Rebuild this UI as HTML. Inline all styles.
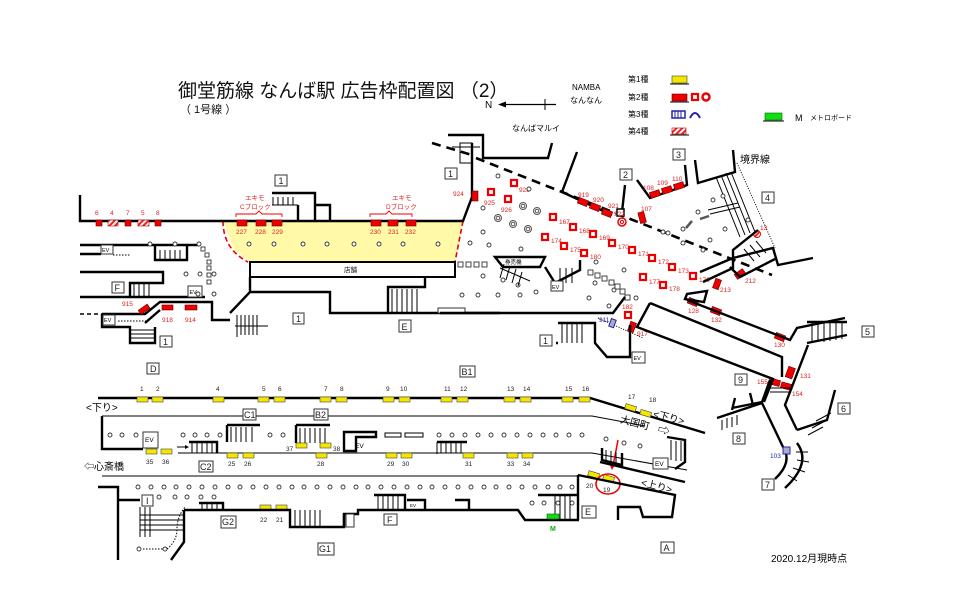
<!DOCTYPE html>
<html><head><meta charset="utf-8"><style>
html,body{margin:0;padding:0;background:#fff}
svg{display:block}
text{font-family:"Liberation Sans","Noto Sans CJK JP",sans-serif}
.w{fill:none;stroke:#000;stroke-width:2.4}
.t{fill:none;stroke:#000;stroke-width:1}
.r{fill:#e00;stroke:#600;stroke-width:.6}
.y{fill:#f5e600;stroke:#444;stroke-width:.6}
.rl{fill:#d22;font-size:6.5px}
.bl{fill:#222;font-size:6.5px}
.bx{fill:#fff;stroke:#333;stroke-width:1}
.bt{font-size:9px;fill:#222}
.c{fill:#fff;stroke:#333;stroke-width:.9}
.sq{fill:#fff;stroke:#e00;stroke-width:2.2}
</style></head><body>
<svg width="960" height="605" viewBox="0 0 960 605" xmlns="http://www.w3.org/2000/svg">
<defs>
<pattern id="h" width="4" height="4" patternUnits="userSpaceOnUse" patternTransform="rotate(45)"><rect width="4" height="4" fill="#fff"/><rect width="2" height="4" fill="#e22"/></pattern>
<g id="st"><path d="M0 0h2M0 0v1" /></g>
</defs>
<!-- Title -->
<text x="178" y="97" font-size="19" fill="#111">御堂筋線  なんば駅  広告枠配置図 （2）</text>
<text x="180" y="113" font-size="11" fill="#111">（ 1号線 ）</text>
<text x="485" y="108" font-size="10">N</text>
<path d="M500 104.5h56" stroke="#000" stroke-width="1.2"/><path d="M498 104.5l8-3v6z"/><path d="M545 99v11" stroke="#000"/>
<text x="572" y="90" font-size="8">NAMBA</text><text x="570" y="103" font-size="8">なんなん</text>
<text x="512" y="131" font-size="8">なんばマルイ</text>
<!-- legend -->
<text x="628" y="82" font-size="8">第1種</text><rect x="672" y="76" width="15" height="7" class="y"/><path d="M670 84h19" stroke="#000"/>
<text x="628" y="100" font-size="8">第2種</text><rect x="672" y="94" width="15" height="7" class="r"/><path d="M670 102h19" stroke="#000"/>
<rect x="692" y="94" width="6" height="6" class="sq"/><circle cx="706" cy="97" r="3.5" fill="#fff" stroke="#e00" stroke-width="2.5"/>
<text x="628" y="117" font-size="8">第3種</text><rect x="672" y="111" width="13" height="7" fill="#fff" stroke="#22a" stroke-width="1.5"/><path d="M675 111v7M678 111v7M681 111v7" stroke="#22a"/><path d="M690 118q5-10 10 0" fill="none" stroke="#22a" stroke-width="2"/>
<text x="628" y="134" font-size="8">第4種</text><rect x="672" y="128" width="14" height="6" fill="url(#h)" stroke="#a00" stroke-width=".6"/><path d="M670 135h19" stroke="#000"/>
<rect x="765" y="113" width="17" height="7" fill="#1d1" stroke="#060" stroke-width=".6"/><path d="M763 121h21" stroke="#000"/>
<text x="795" y="121" font-size="9">M</text><text x="810" y="120" font-size="7">メトロボード</text>

<!-- ===== TOP MAP ===== -->
<polygon points="223,221 463,221 455,262 250,262 234,250" fill="#fff9a8"/>
<path d="M223 221q0 28 25 41M463 221l-8 41" fill="none" stroke="#e00" stroke-width="1.6" stroke-dasharray="5,3"/>
<path class="w" d="M80 195v26h383l9-24v-54"/>
<path class="w" d="M272 193h43v28M298 205v16M315 205h15v16"/>
<path class="t" d="M273 197v8M278 197v8M283 197v8M288 197v8M293 197v8M272 205h26"/>
<rect x="275" y="175" width="12" height="11" class="bx"/><text x="278.5" y="184" class="bt">1</text>
<path class="w" d="M448 135h35v23h65l4-15"/><path class="t" d="M460 143h12v20h-12z M452 147h28"/>
<rect x="445" y="168" width="12" height="11" class="bx"/><text x="448" y="177" class="bt">1</text>
<path d="M432 143l40 12M476 158l296 117" stroke="#000" stroke-width="2.6" stroke-dasharray="9,6" fill="none"/>
<!-- left ads -->
<rect x="96" y="220" width="6" height="6" class="r"/><rect x="108" y="220" width="10" height="6" fill="url(#h)" stroke="#a00" stroke-width=".6"/>
<rect x="125" y="220" width="6" height="6" class="r"/><rect x="138" y="220" width="11" height="6" fill="url(#h)" stroke="#a00" stroke-width=".6"/>
<rect x="155" y="220" width="6" height="6" class="r"/>
<text x="95" y="215" class="rl">6</text><text x="110" y="215" class="rl">4</text><text x="126" y="215" class="rl">7</text><text x="141" y="215" class="rl">5</text><text x="156" y="215" class="rl">8</text>
<g class="r"><rect x="237" y="220" width="10" height="6"/><rect x="256" y="220" width="10" height="6"/><rect x="272" y="220" width="10" height="6"/><rect x="371" y="220" width="10" height="6"/><rect x="388" y="220" width="10" height="6"/><rect x="406" y="220" width="10" height="6"/></g>
<g class="rl"><text x="236" y="234">227</text><text x="255" y="234">228</text><text x="272" y="234">229</text><text x="370" y="234">230</text><text x="388" y="234">231</text><text x="405" y="234">232</text></g>
<g class="rl"><text x="245" y="200">エキモ</text><text x="240" y="209">Cブロック</text><text x="392" y="200">エキモ</text><text x="386" y="209">Dブロック</text></g>
<path d="M236 217v-3h20l3-3 3 3h20v3M370 217v-3h16l3-3 3 3h20v3" fill="none" stroke="#e00" stroke-width=".9"/>
<g class="c"><circle cx="249" cy="244" r="2"/><circle cx="274" cy="244" r="2"/><circle cx="303" cy="244" r="2"/><circle cx="327" cy="244" r="2"/><circle cx="354" cy="244" r="2"/><circle cx="379" cy="244" r="2"/><circle cx="403" cy="244" r="2"/><circle cx="438" cy="244" r="2"/></g>
<rect x="250" y="262" width="205" height="15" fill="#fff" stroke="#000" stroke-width="2"/><text x="344" y="272" font-size="6.5">店舗</text>
<path class="w" d="M230 313l20-21v-15M250 292h80v21h170M425 277v10h-37v26"/>
<path class="t" d="M392 289v24M397 289v24M402 289v24M407 289v24M412 289v24M417 289v24"/>
<rect x="438" y="308" width="27" height="5" fill="#fff" stroke="#333"/>
<rect x="293" y="313" width="11" height="11" class="bx"/><text x="296" y="322" class="bt">1</text>
<rect x="399" y="320" width="12" height="12" class="bx"/><text x="401.5" y="330" class="bt">E</text>
<path class="t" d="M237 315v22M241 315v20M245 315v20M249 315v20M253 315v20M257 315v20M235 326h33"/>
<!-- left lower -->
<path class="w" d="M80 245h75M80 254h21M155 245h45"/><rect x="101" y="245" width="12" height="9" class="bx"/><text x="102" y="252" font-size="5.5">EV</text>
<path d="M113 255h18" stroke="#000" stroke-dasharray="1.5,1.5"/>
<path class="w" d="M155 245v15h32v-15"/><path class="t" d="M160 250v10M165 250v10M170 250v10M175 250v10M180 250v10"/>
<path class="w" d="M80 272h83v11h-33v14M80 297h125"/>
<rect x="112" y="282" width="12" height="11" class="bx"/><text x="114.5" y="291" class="bt">F</text>
<path class="t" d="M134 283v14M139 283v14M144 283v14M149 283v14"/>
<rect x="188" y="286" width="14" height="11" class="bx"/><text x="189.5" y="294" font-size="5.5">EV</text>
<path d="M80 314h22" stroke="#000" stroke-width="1.6" stroke-dasharray="4,3"/>
<path class="w" d="M102 314h43l15-12h52v18h18M102 314v13h28v16h25v-16M145 323l15-13"/>
<rect x="103" y="315" width="12" height="10" class="bx"/><text x="104" y="322" font-size="5.5">EV</text>
<path d="M118 321h30" stroke="#000" stroke-dasharray="1.5,1.5"/>
<path class="t" d="M130 330h25M130 334h25M130 338h25"/>
<rect x="139" y="307" width="11" height="5" class="r" transform="rotate(-35 144 310)"/>
<text x="122" y="306" class="rl">915</text>
<rect x="162" y="305" width="11" height="5" class="r"/><rect x="185" y="305" width="12" height="5" class="r"/>
<text x="162" y="322" class="rl">918</text><text x="185" y="322" class="rl">914</text>
<rect x="160" y="336" width="12" height="11" class="bx"/><text x="163" y="345" class="bt">1</text>
<rect x="116" y="280" width="0" height="0"/>
<g class="c"><circle cx="150" cy="244" r="2"/><circle cx="175" cy="244" r="2"/><circle cx="199" cy="244" r="2"/><circle cx="186" cy="274" r="2"/><circle cx="200" cy="274" r="2"/><circle cx="214" cy="274" r="2"/><circle cx="198" cy="294" r="2"/><circle cx="214" cy="294" r="2"/></g>
<g class="c"><rect x="201" y="247" width="4" height="4"/><rect x="205" y="253" width="4" height="4"/><rect x="207" y="260" width="4" height="4"/><rect x="207" y="266" width="4" height="4"/><rect x="207" y="273" width="4" height="4"/><rect x="207" y="280" width="4" height="4"/></g>
<!-- right area top -->
<rect x="472" y="191" width="6" height="10" class="r"/><text x="453" y="196" class="rl">924</text>
<path class="w" d="M577 152l-15 40 50 23M637 180l13 18 37-13-2-20M695 160l3 23 37-11-2-22M625 185l-3 27"/>
<rect x="620" y="169" width="12" height="11" class="bx"/><text x="623" y="178" class="bt">2</text>
<rect x="673" y="149" width="12" height="11" class="bx"/><text x="676" y="158" class="bt">3</text>
<rect x="762" y="192" width="12" height="11" class="bx"/><text x="765" y="201" class="bt">4</text>
<text x="740" y="163" font-size="10">境界線</text>
<path d="M737 163l38 85" stroke="#000" stroke-dasharray="1,1.5"/>
<path class="t" d="M716 177l24 60M721 175l24 60M726 173l24 60M731 172l24 60M708 210l30-7M710 214l30-7"/>
<g class="r">
<rect x="578" y="199" width="10" height="6" transform="rotate(22 583 202)"/><rect x="590" y="204" width="10" height="6" transform="rotate(22 595 207)"/><rect x="602" y="210" width="10" height="6" transform="rotate(22 607 213)"/>
<rect x="639" y="212" width="6" height="11" transform="rotate(-15 642 217)"/>
<rect x="650" y="191" width="10" height="6" transform="rotate(-18 655 194)"/><rect x="662" y="187" width="10" height="6" transform="rotate(-18 667 190)"/><rect x="674" y="183" width="10" height="6" transform="rotate(-18 679 186)"/>
<rect x="735" y="271" width="10" height="6" transform="rotate(-35 740 274)"/><rect x="714" y="279" width="6" height="10" transform="rotate(20 717 284)"/>
<rect x="688" y="299" width="10" height="6" transform="rotate(22 693 302)"/><rect x="711" y="308" width="10" height="6" transform="rotate(22 716 311)"/><rect x="775" y="334" width="10" height="6" transform="rotate(22 780 337)"/>
<rect x="787" y="367" width="7" height="11" transform="rotate(20 790 372)"/><rect x="769" y="379" width="11" height="6" transform="rotate(15 774 382)"/><rect x="781" y="383" width="11" height="6" transform="rotate(15 786 386)"/>
<rect x="629" y="322" width="6" height="10" transform="rotate(20 632 327)"/>
</g>
<rect x="617" y="209" width="7" height="7" fill="#fff" stroke="#000" stroke-width="1.5"/>
<circle cx="622" cy="222" r="4" fill="#fff" stroke="#e00" stroke-width="1.5"/><circle cx="622" cy="222" r="1.6" fill="none" stroke="#e00"/>
<circle cx="757" cy="234" r="3.5" fill="url(#h)" stroke="#e00"/><text x="760" y="230" class="rl">13</text>
<g class="rl"><text x="578" y="197">919</text><text x="593" y="202">920</text><text x="608" y="208">921</text><text x="614" y="216">922</text><text x="641" y="211">107</text>
<text x="643" y="190">108</text><text x="657" y="185">109</text><text x="672" y="181">110</text>
<text x="745" y="283">212</text><text x="720" y="292">213</text><text x="688" y="313">128</text><text x="711" y="322">132</text><text x="774" y="347">130</text>
<text x="800" y="378">131</text><text x="757" y="384">155</text><text x="792" y="396">154</text><text x="622" y="309">182</text><text x="637" y="336">917</text>
<text x="484" y="205">925</text><text x="501" y="212">926</text><text x="519" y="192">928</text></g>
<g class="sq">
<rect x="511" y="180" width="6" height="6"/><rect x="488" y="189" width="6" height="6"/><rect x="505" y="196" width="6" height="6"/>
<rect x="550" y="214" width="6" height="6"/><rect x="570" y="224" width="6" height="6"/><rect x="590" y="231" width="6" height="6"/><rect x="609" y="240" width="6" height="6"/><rect x="629" y="247" width="6" height="6"/><rect x="649" y="255" width="6" height="6"/><rect x="669" y="264" width="6" height="6"/><rect x="690" y="273" width="6" height="6"/>
<rect x="542" y="234" width="6" height="6"/><rect x="561" y="243" width="6" height="6"/><rect x="581" y="250" width="6" height="6"/>
<rect x="640" y="274" width="6" height="6"/><rect x="660" y="282" width="6" height="6"/><rect x="625" y="312" width="6" height="6"/>
</g>
<g class="rl"><text x="559" y="224">167</text><text x="579" y="233">168</text><text x="599" y="240">169</text><text x="618" y="249">170</text><text x="638" y="256">171</text><text x="658" y="264">172</text><text x="678" y="273">173</text><text x="699" y="282">176</text>
<text x="551" y="243">174</text><text x="570" y="252">175</text><text x="590" y="259">180</text><text x="649" y="284">177</text><text x="669" y="291">178</text></g>
<g fill="none" stroke="#555"><circle cx="523" cy="206" r="3.5"/><circle cx="523" cy="206" r="1.8"/><circle cx="537" cy="211" r="3.5"/><circle cx="537" cy="211" r="1.8"/><circle cx="498" cy="218" r="3.5"/><circle cx="498" cy="218" r="1.8"/><circle cx="513" cy="224" r="3.5"/><circle cx="513" cy="224" r="1.8"/><circle cx="528" cy="229" r="3.5"/><circle cx="528" cy="229" r="1.8"/></g>
<g class="c"><circle cx="498" cy="176" r="2"/><circle cx="529" cy="189" r="2"/><circle cx="470" cy="243" r="2"/><circle cx="489" cy="245" r="2"/><circle cx="521" cy="249" r="2"/><circle cx="483" cy="276" r="2"/><circle cx="503" cy="280" r="2"/><circle cx="518" cy="285" r="2"/><circle cx="536" cy="292" r="2"/><circle cx="596" cy="262" r="2"/><circle cx="624" cy="270" r="2"/><circle cx="595" cy="283" r="2"/><circle cx="614" cy="290" r="2"/><circle cx="589" cy="298" r="2"/><circle cx="609" cy="306" r="2"/><circle cx="636" cy="298" r="2"/><circle cx="668" cy="233" r="2"/><circle cx="683" cy="229" r="2"/><circle cx="698" cy="212" r="2"/><circle cx="713" cy="200" r="2"/><circle cx="723" cy="196" r="2"/><circle cx="710" cy="240" r="2"/><circle cx="725" cy="229" r="2"/><circle cx="663" cy="232" r="2"/><circle cx="683" cy="243" r="2"/><circle cx="703" cy="250" r="2"/><circle cx="748" cy="220" r="2"/><circle cx="462" cy="295" r="2"/><circle cx="478" cy="295" r="2"/><circle cx="498" cy="295" r="2"/><circle cx="520" cy="295" r="2"/><circle cx="483" cy="208" r="2"/><circle cx="483" cy="232" r="2"/></g>
<g class="c"><rect x="458" y="262" width="5" height="5"/><rect x="466" y="262" width="5" height="5"/><rect x="474" y="262" width="5" height="5"/><rect x="482" y="262" width="5" height="5"/>
<rect x="588" y="270" width="5" height="5"/><rect x="595" y="273" width="5" height="5"/><rect x="602" y="276" width="5" height="5"/><rect x="609" y="280" width="5" height="5"/><rect x="615" y="284" width="5" height="5"/><rect x="620" y="289" width="5" height="5"/><rect x="625" y="295" width="5" height="5"/></g>
<path d="M686 228l6-7M700 219l9-3" stroke="#555" stroke-width="2.5" fill="none"/>
<path class="w" d="M495 257h50l-5 10h-37zM545 267l10 16 25-13v-10"/>
<text x="505" y="264" font-size="5.5">券売機</text>
<path class="t" d="M500 268l30 13M504 264l-4 14M510 266l-4 14M516 269l-4 14M522 272l-4 14M560 268v15M566 268v15M572 268v15"/>
<rect x="551" y="281" width="12" height="10" class="bx" stroke-width="2"/><text x="552" y="289" font-size="5.5">EV</text>
<path class="w" d="M440 313h173l12-16M733 258l40-10 5 17 35-7M733 258v-8l25-20M700 272l33 -14v10l-30 14M730 267l10 10 35-18"/>
<path class="t" d="M744 249l10 12M750 245l10 12M756 241l10 12"/>
<path class="w" d="M687 294l-2 5 19 3 3-11zM687 300l103 40 7-12 48-10M650 303l-13 24 136 52 -9 23M650 303l132 54v20"/>
<path class="w" d="M558 323h37v20l12 14h23v-32M558 343h-2"/>
<path class="t" d="M562 323v20M567 323v20M572 323v20M577 323v20M582 323v20"/>
<path d="M598 318l45 20" stroke="#000" stroke-dasharray="1,1.5"/>
<rect x="610" y="319" width="5" height="8" fill="#aac" stroke="#22a" transform="rotate(20 612 323)"/>
<text x="599" y="322" font-size="6.5" fill="#22a">911</text>
<rect x="540" y="335" width="12" height="11" class="bx"/><text x="543" y="344" class="bt">1</text>
<rect x="632" y="352" width="13" height="11" class="bx"/><text x="633.5" y="360" font-size="5.5">EV</text>
<!-- right lower cluster -->
<path class="w" d="M808 345l-23 60 12 25M807 322h40M807 343l40-8"/>
<path class="t" d="M812 322v21M818 322v20M824 322v20M830 322v19M836 322v18M842 322v17"/>
<rect x="862" y="326" width="12" height="11" class="bx"/><text x="865" y="335" class="bt">5</text>
<rect x="838" y="403" width="12" height="11" class="bx"/><text x="841" y="412" class="bt">6</text>
<rect x="762" y="479" width="12" height="11" class="bx"/><text x="765" y="488" class="bt">7</text>
<rect x="733" y="433" width="12" height="11" class="bx"/><text x="736" y="442" class="bt">8</text>
<rect x="735" y="374" width="12" height="11" class="bx"/><text x="738" y="383" class="bt">9</text>
<path class="w" d="M770 380l-8 22-30 6M762 403l21 44M717 418l45-15M735 398l-3 12M750 393l3 12"/>
<path class="t" d="M770 388h20M770 392h20M722 420v10M727 418v10M732 417v10M737 415v10"/>
<path class="w" d="M797 430l30-10 8-30M797 443q15 20 -12 45M783 447q10 15-8 32"/>
<path class="t" d="M808 435l15-8M812 428l15-8M816 421l15-8M796 452l12 0M797 460l12 2M793 468l12 4M788 475l9 6"/>
<rect x="783" y="447" width="7" height="7" fill="#aac" stroke="#22a"/><text x="770" y="458" font-size="6.5" fill="#22a">103</text>

<!-- ===== BOTTOM MAP ===== -->
<rect x="147" y="363" width="12" height="11" class="bx"/><text x="150" y="372" class="bt">D</text>
<rect x="460" y="366" width="15" height="11" class="bx"/><text x="461.5" y="375" class="bt">B1</text>
<path class="w" d="M98 398h492l115 35"/>
<path class="t" d="M102 416h490l53 10"/>
<path class="w" d="M102 416v33h41"/>
<path class="t" d="M178 453h414l95 17M102 476h476"/>
<g class="y"><rect x="137" y="397" width="11" height="5"/><rect x="152" y="397" width="11" height="5"/><rect x="213" y="397" width="11" height="5"/><rect x="258" y="397" width="11" height="5"/><rect x="274" y="397" width="11" height="5"/><rect x="320" y="397" width="11" height="5"/><rect x="336" y="397" width="11" height="5"/><rect x="383" y="397" width="11" height="5"/><rect x="399" y="397" width="11" height="5"/><rect x="441" y="397" width="11" height="5"/><rect x="457" y="397" width="11" height="5"/><rect x="504" y="397" width="11" height="5"/><rect x="520" y="397" width="11" height="5"/><rect x="562" y="397" width="11" height="5"/><rect x="579" y="397" width="11" height="5"/>
<rect x="625" y="405" width="11" height="5" transform="rotate(17 630 408)"/><rect x="640" y="411" width="11" height="5" transform="rotate(17 646 414)"/>
<rect x="146" y="449" width="11" height="5"/><rect x="161" y="449" width="11" height="5"/><rect x="227" y="453" width="11" height="5"/><rect x="243" y="453" width="11" height="5"/><rect x="316" y="453" width="11" height="5"/><rect x="386" y="453" width="11" height="5"/><rect x="401" y="453" width="11" height="5"/><rect x="463" y="453" width="11" height="5"/><rect x="507" y="453" width="11" height="5"/><rect x="522" y="453" width="11" height="5"/>
<rect x="296" y="443" width="11" height="5"/><rect x="320" y="443" width="11" height="5"/>
<rect x="588" y="472" width="11" height="5" transform="rotate(17 593 475)"/><rect x="603" y="476" width="11" height="5" transform="rotate(17 609 479)"/>
<rect x="260" y="505" width="11" height="5"/><rect x="276" y="505" width="11" height="5"/></g>
<g class="bl"><text x="140" y="391">1</text><text x="156" y="391">2</text><text x="216" y="391">4</text><text x="262" y="391">5</text><text x="278" y="391">6</text><text x="324" y="391">7</text><text x="340" y="391">8</text><text x="386" y="391">9</text><text x="400" y="391">10</text><text x="444" y="391">11</text><text x="460" y="391">12</text><text x="507" y="391">13</text><text x="523" y="391">14</text><text x="565" y="391">15</text><text x="582" y="391">16</text><text x="628" y="399">17</text><text x="649" y="402">18</text>
<text x="146" y="464">35</text><text x="162" y="464">36</text><text x="228" y="466">25</text><text x="244" y="466">26</text><text x="317" y="466">28</text><text x="387" y="466">29</text><text x="402" y="466">30</text><text x="465" y="466">31</text><text x="507" y="466">33</text><text x="523" y="466">34</text>
<text x="286" y="451">37</text><text x="333" y="451">38</text><text x="586" y="488">20</text><text x="603" y="492">19</text><text x="260" y="522">22</text><text x="276" y="522">21</text></g>
<text x="86" y="411" font-size="10">&lt;下り&gt;</text>
<text x="84" y="470" font-size="10">⇦心斎橋</text>
<text x="620" y="425" font-size="10" transform="rotate(14 630 422)">大国町</text>
<text x="653" y="420" font-size="10" transform="rotate(14 665 417)">&lt;下り&gt;</text>
<text x="658" y="435" font-size="12" transform="rotate(14 665 430)">⇨</text>
<text x="641" y="489" font-size="10" transform="rotate(14 655 485)">&lt;上り&gt;</text>
<ellipse cx="608" cy="484" rx="12" ry="10" fill="none" stroke="#e00" stroke-width="1.6"/>
<path d="M618 440l-5 26" stroke="#e00" stroke-width="1.5"/><path d="M612 470l-3-7h7z" fill="#e00"/>
<rect x="243" y="409" width="13" height="11" class="bx"/><text x="244" y="418" class="bt">C1</text>
<rect x="314" y="409" width="14" height="11" class="bx"/><text x="315" y="418" class="bt">B2</text>
<rect x="199" y="461" width="14" height="11" class="bx"/><text x="200" y="470" class="bt">C2</text>
<rect x="143" y="432" width="15" height="16" class="bx" stroke-width="2"/><text x="145" y="442" font-size="6.5">EV</text>
<path class="w" d="M227 425h33M227 425v17M296 425h34M296 425v18M344 432h32v5h-20v14h-12z"/>
<path class="t" d="M231 427v15M236 427v15M241 427v15M246 427v15M252 427v15M300 428v15M305 428v15M310 428v15M315 428v15M320 428v15M325 428v15"/>
<text x="355" y="448" font-size="6.5">EV</text>
<rect x="385" y="433" width="16" height="4" fill="#fff" stroke="#000"/><rect x="405" y="433" width="18" height="4" fill="#fff" stroke="#000"/>
<path d="M177 447h10" stroke="#000"/><path d="M189 447l-4-2v4z"/>
<path class="w" d="M189 442h28v11M437 442h30"/>
<path class="t" d="M192 443v10M197 443v10M202 443v10M207 443v10M212 443v10M441 443v10M446 443v10M451 443v10M456 443v10M461 443v10M437 442v12"/>
<path class="w" d="M602 448v12l20 5v-12M667 437l18 3v22l-10 7"/>
<path class="t" d="M606 450v12M611 451v12M616 452v12M671 440v20M676 441v20M681 441v20"/>
<rect x="653" y="458" width="15" height="11" class="bx" stroke-width="2"/><text x="655" y="466" font-size="6.5">EV</text>
<path class="w" d="M600 462l85 20"/>
<!-- circles -->
<g class="c">
<circle cx="110" cy="435" r="2"/><circle cx="122" cy="435" r="2"/><circle cx="136" cy="435" r="2"/><circle cx="183" cy="435" r="2"/><circle cx="195" cy="435" r="2"/><circle cx="207" cy="435" r="2"/><circle cx="220" cy="435" r="2"/><circle cx="270" cy="435" r="2"/><circle cx="283" cy="435" r="2"/>
<circle cx="439" cy="435" r="2"/><circle cx="452" cy="435" r="2"/><circle cx="465" cy="435" r="2"/><circle cx="478" cy="435" r="2"/><circle cx="491" cy="435" r="2"/><circle cx="504" cy="435" r="2"/><circle cx="517" cy="435" r="2"/><circle cx="530" cy="435" r="2"/><circle cx="543" cy="435" r="2"/><circle cx="556" cy="435" r="2"/><circle cx="569" cy="435" r="2"/><circle cx="582" cy="435" r="2"/><circle cx="606" cy="439" r="2"/><circle cx="624" cy="443" r="2"/><circle cx="640" cy="446" r="2"/>
<circle cx="138" cy="487" r="2"/><circle cx="151" cy="487" r="2"/><circle cx="164" cy="487" r="2"/><circle cx="176" cy="487" r="2"/><circle cx="189" cy="487" r="2"/><circle cx="202" cy="487" r="2"/><circle cx="215" cy="487" r="2"/><circle cx="228" cy="487" r="2"/><circle cx="240" cy="487" r="2"/><circle cx="253" cy="487" r="2"/><circle cx="266" cy="487" r="2"/><circle cx="279" cy="487" r="2"/><circle cx="292" cy="487" r="2"/><circle cx="304" cy="487" r="2"/><circle cx="317" cy="487" r="2"/><circle cx="330" cy="487" r="2"/><circle cx="343" cy="487" r="2"/><circle cx="356" cy="487" r="2"/><circle cx="368" cy="487" r="2"/><circle cx="381" cy="487" r="2"/><circle cx="394" cy="487" r="2"/><circle cx="407" cy="487" r="2"/><circle cx="420" cy="487" r="2"/><circle cx="432" cy="487" r="2"/><circle cx="445" cy="487" r="2"/><circle cx="458" cy="487" r="2"/><circle cx="471" cy="487" r="2"/><circle cx="484" cy="487" r="2"/><circle cx="496" cy="487" r="2"/><circle cx="509" cy="487" r="2"/><circle cx="522" cy="487" r="2"/><circle cx="535" cy="487" r="2"/><circle cx="548" cy="487" r="2"/><circle cx="560" cy="487" r="2"/><circle cx="572" cy="487" r="2"/>
<circle cx="159" cy="497" r="2"/><circle cx="175" cy="497" r="2"/><circle cx="187" cy="497" r="2"/><circle cx="201" cy="497" r="2"/><circle cx="214" cy="497" r="2"/>
<circle cx="532" cy="503" r="2"/><circle cx="544" cy="503" r="2"/><circle cx="558" cy="503" r="2"/><circle cx="572" cy="503" r="2"/><circle cx="139" cy="549" r="2"/><circle cx="165" cy="549" r="2"/></g>
<path d="M143 549h20M167 549q10-8 10-20t8-22" fill="none" stroke="#000" stroke-dasharray="1.5,1.5"/>
<!-- bottom walls -->
<path class="w" d="M98 487h20v73M118 500h22M184 510v32l-13 18M184 510h106v17h54v-13h14v-4h160l7 10h54M578 475v45M578 475l97 20-3 22h-29l-3-10h-22v13"/>
<path class="w" d="M199 503h24v7M374 495h31v15M407 500h18v10M455 500h14v10M344 514v13M538 495h40"/>
<path class="t" d="M140 507v30M145 507v30M150 507v30M140 515h44M140 520h44M140 525h44M140 530h44M202 503v7M207 503v7M212 503v7M217 503v7M295 510v17M300 510v17M305 510v17M310 510v17M315 510v17M320 510v17M378 495v15M383 495v15M388 495v15M393 495v15M398 495v15M555 495v25M560 495v25M565 495v25M570 495v25"/>
<rect x="346" y="514" width="8" height="13" class="bx"/>
<text x="410" y="507" font-size="4.5">EV</text>
<rect x="547" y="514" width="12" height="5" fill="#1d1" stroke="#060" stroke-width=".6"/><text x="550" y="531" font-size="7" fill="#1a1" font-weight="bold">M</text>
<rect x="142" y="495" width="11" height="11" class="bx"/><text x="146" y="504" class="bt">I</text>
<rect x="582" y="506" width="14" height="12" class="bx"/><text x="585" y="515" class="bt">E</text>
<rect x="221" y="516" width="15" height="12" class="bx"/><text x="222" y="525" class="bt">G2</text>
<rect x="318" y="543" width="16" height="12" class="bx"/><text x="319" y="552" class="bt">G1</text>
<rect x="384" y="514" width="13" height="11" class="bx"/><text x="387" y="523" class="bt">F</text>
<rect x="661" y="542" width="13" height="11" class="bx"/><text x="663.5" y="551" class="bt">A</text>
<text x="771" y="562" font-size="10">2020.12月現時点</text>
</svg>
</body></html>
